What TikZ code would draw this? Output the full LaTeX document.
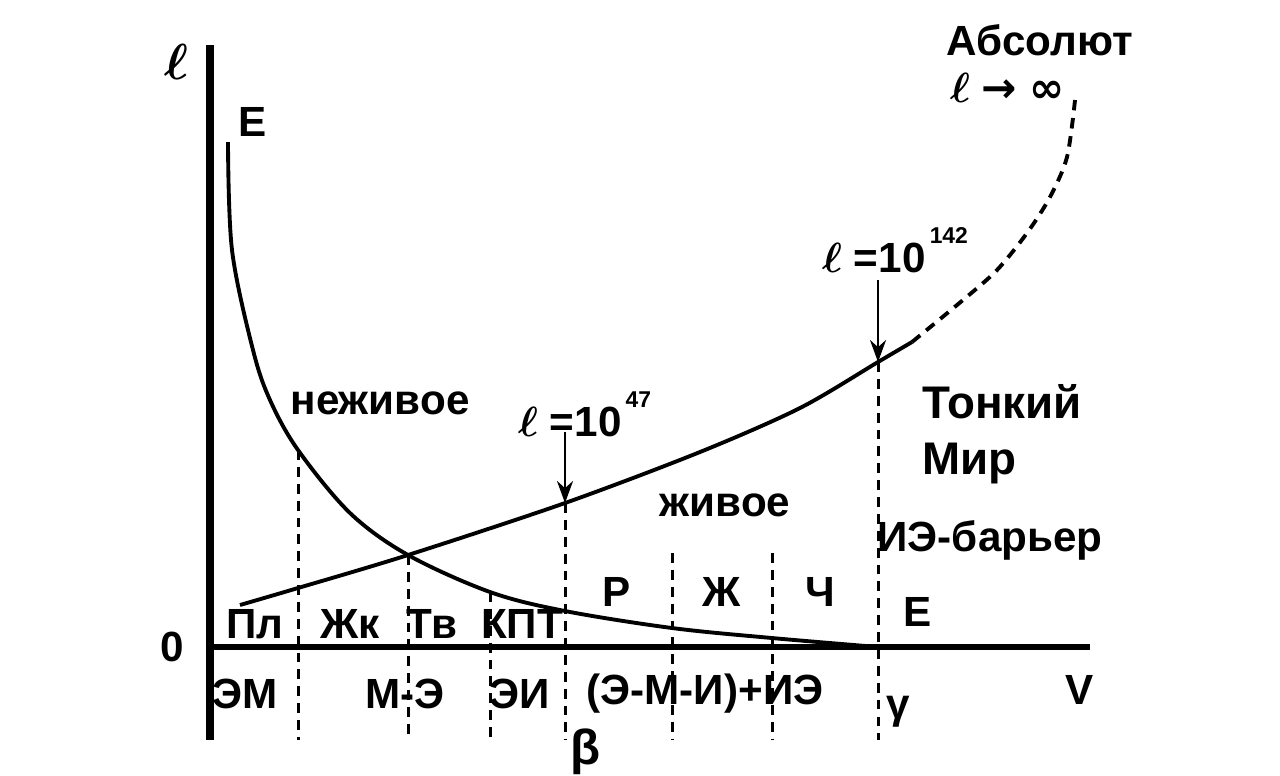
\documentclass[tikz,border=0pt]{standalone}
\usepackage{amsmath}
\usepackage{fontspec}
\setmainfont{Liberation Sans}
\newfontfamily\symfont{DejaVu Sans}
\usepackage{tikz}
\usetikzlibrary{arrows.meta,positioning,calc}

\begin{document}
\begin{tikzpicture}[x=0.01cm, y=-0.01cm, every node/.style={font=\bfseries\fontsize{12}{14}\selectfont, inner sep=1pt}]
\tikzset{axisline/.style={line width=1.5pt}}
\tikzset{curveline/.style={line width=1.1pt}}
\tikzset{guide/.style={line width=0.85pt, dash pattern=on 2.8pt off 2pt}}
\tikzset{arrow/.style={-{Stealth[length=2.2mm, width=1.6mm]}, line width=0.8pt}}
\newcommand{\bl}{$\boldsymbol{\ell}$}
\newcommand{\supnum}[1]{\kern1.2pt\raisebox{1.3ex}{\fontsize{6.5}{7}\selectfont #1}}
\useasboundingbox (0,0) rectangle (1280,775);
% axes
\coordinate (o) at (210,647);
\coordinate (ytop) at (210,45);
\coordinate (ybot) at (210,740);
\coordinate (xend) at (1090,647);
\draw[line width=2pt] (ytop) -- (ybot);
\draw[axisline] (o) -- (xend);
% points on the curves
\coordinate (c1) at (298,450);
\coordinate (c2) at (408,555);
\coordinate (c3) at (490,592);
\coordinate (c4) at (565,503);
\coordinate (c5) at (672,553);
\coordinate (c6) at (772,553);
\coordinate (c7) at (878,362);
% energy curve E
\draw[curveline] plot[smooth, tension=0.55] coordinates {(228,142) (232,250) (253,350) (270,400) (c1) (350,513) (c2) (c3) (565,611) (672,628) (772,638) (878,647)};
% rising curve
\draw[curveline] plot[smooth] coordinates {(240,605) (298,588) (c2) (c4) (700,452) (800,408) (c7) (912,342)};
\draw[curveline, dash pattern=on 3pt off 2.2pt] plot[smooth] coordinates {(912,342) (963,300) (997,270) (1027,233) (1050,197) (1067,157) (1075,100)};
% dashed guides
\foreach \c in {c1, c2, c3, c4, c5, c6, c7}
  \draw[guide] (\c) -- (\c |- 0,740);
% arrows
\coordinate (a1) at (565,432);
\coordinate (a2) at (878,280);
\draw[arrow] (a1) -- (c4);
\draw[arrow] (a2) -- (c7);
% labels
\node[font=\bfseries\fontsize{15}{15}\selectfont] (lab-l) at (176,62) {\bl};
\node (lab-0) at (172,647) {0};
\node (lab-v) at (1080,690) {V};
\node (lab-e1) at (253,122) {E};
\node (lab-abs) at (1040,40) {Абсолют};
\node[anchor=west] (lab-inf) at (946,88) {\bl\ {\symfont →}\ {\symfont ∞}};
\node[anchor=west] (lab-l142) at (818,250) {\bl\ =10\supnum{142}};
\node[anchor=west] (lab-l47) at (514,414) {\bl\ =10\supnum{47}};
\node (lab-dead) at (380,403) {неживое};
\node (lab-alive) at (725,505) {живое};
\node[anchor=west, align=left, font=\bfseries\fontsize{13}{16}\selectfont] (lab-fine) at (918,434) {Тонкий\\Мир};
\node (lab-bar) at (990,540) {ИЭ-барьер};
% zones above the axis
\node (z-pl) at (255,624) {Пл};
\node (z-zhk) at (350,624) {Жк};
\node (z-tv) at (432,624) {Тв};
\node (z-kpt) at (522,624) {КПТ};
\node (z-r) at (617,592) {Р};
\node (z-zh) at (722,592) {Ж};
\node (z-ch) at (820,592) {Ч};
\node (lab-e2) at (918,612) {E};
% zones below the axis
\node (b-em) at (245,694) {ЭМ};
\node (b-me) at (405,694) {М-Э};
\node (b-ei) at (520,694) {ЭИ};
\node (b-emi) at (705,694) {(Э-М-И)+ИЭ};
\node (b-gamma) at (898,712) {γ};
\node[font=\bfseries\fontsize{14}{14}\selectfont] (b-beta) at (586,752) {β};
\end{tikzpicture}
\end{document}
